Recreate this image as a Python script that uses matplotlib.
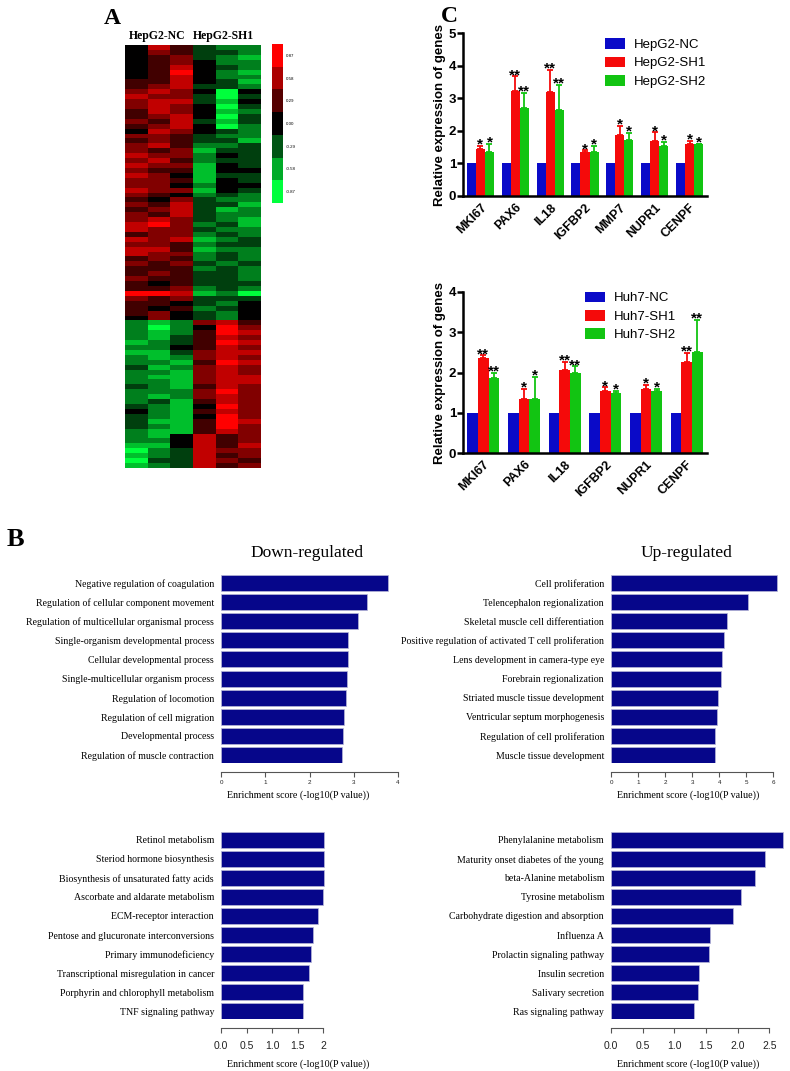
import numpy as np
import matplotlib
matplotlib.use("Agg")
import matplotlib.pyplot as plt
from matplotlib.colors import LinearSegmentedColormap

SERIF = ['Liberation Serif', 'DejaVu Serif']
SANS = ['Liberation Sans', 'DejaVu Sans']
plt.rcParams['font.family'] = SANS

# ---------------- data ----------------
# Heatmap rows (digit 0..8 -> -0.87..0.87, 4 = 0); columns: NC x3, SH1 x3
heat_rows = [
    "475322", "465332", "456321", "456422", "457432", "458421", "457422", "557431",
    "567332", "676404", "766303", "677314", "676403", "576412", "567403", "657313",
    "567402", "476432", "665322", "565331", "675223", "656133", "766243", "675233",
    "766143", "655144", "764133", "665143", "664244", "766143", "654232", "546322",
    "657331", "567312", "657322", "676321", "786231", "766322", "566232", "767123",
    "665233", "775122", "766232", "565232", "656323", "555232", "565332", "655332",
    "545333", "556232", "887120", "656333", "554324", "545234", "564324", "464324",
    "212675", "202486", "212587", "213576", "123587", "224576", "113677", "212676",
    "221587", "312676", "221676", "211677", "221677", "321576", "222686", "212676",
    "231576", "321486", "421576", "321486", "311587", "321586", "211576", "214756",
    "224756", "114757", "023766", "123756", "033765", "123756",
]
heat_cols = ["HepG2-NC", "HepG2-SH1"]
cbar_levels = [0.87, 0.58, 0.29, 0.00, -0.29, -0.58, -0.87]
cbar_labels = ["0.87", "0.58", "0.29", "0.00", "-0.29", "-0.58", "-0.87"]

hep_genes = ['MKI67', 'PAX6', 'IL18', 'IGFBP2', 'MMP7', 'NUPR1', 'CENPF']
hep_nc = [1, 1, 1, 1, 1, 1, 1]
hep_sh1 = [1.44, 3.21, 3.19, 1.36, 1.88, 1.68, 1.59]
hep_sh1_err = [0.10, 0.46, 0.69, 0.04, 0.27, 0.27, 0.10]
hep_sh2 = [1.36, 2.71, 2.65, 1.34, 1.73, 1.54, 1.59]
hep_sh2_err = [0.25, 0.46, 0.75, 0.20, 0.21, 0.12, 0.02]
hep_sh1_sig = ['*', '**', '**', '*', '*', '*', '*']
hep_sh2_sig = ['*', '**', '**', '*', '*', '*', '*']
hep_legend = ['HepG2-NC', 'HepG2-SH1', 'HepG2-SH2']

huh_genes = ['MKI67', 'PAX6', 'IL18', 'IGFBP2', 'NUPR1', 'CENPF']
huh_nc = [1, 1, 1, 1, 1, 1]
huh_sh1 = [2.37, 1.33, 2.05, 1.54, 1.60, 2.25]
huh_sh1_err = [0.06, 0.27, 0.21, 0.09, 0.10, 0.23]
huh_sh2 = [1.87, 1.33, 2.00, 1.49, 1.55, 2.51]
huh_sh2_err = [0.13, 0.57, 0.15, 0.06, 0.04, 0.79]
huh_sh1_sig = ['**', '*', '**', '*', '*', '**']
huh_sh2_sig = ['**', '*', '**', '*', '*', '**']
huh_legend = ['Huh7-NC', 'Huh7-SH1', 'Huh7-SH2']

go_down_terms = ['Negative regulation of coagulation', 'Regulation of cellular component movement',
                 'Regulation of multicellular organismal process', 'Single-organism developmental process',
                 'Cellular developmental process', 'Single-multicellular organism process',
                 'Regulation of locomotion', 'Regulation of cell migration', 'Developmental process',
                 'Regulation of muscle contraction']
go_down_vals = [3.77, 3.30, 3.10, 2.87, 2.86, 2.84, 2.83, 2.78, 2.76, 2.74]

go_up_terms = ['Cell proliferation', 'Telencephalon regionalization', 'Skeletal muscle cell differentiation',
               'Positive regulation of activated T cell proliferation', 'Lens development in camera-type eye',
               'Forebrain regionalization', 'Striated muscle tissue development',
               'Ventricular septum morphogenesis', 'Regulation of cell proliferation', 'Muscle tissue development']
go_up_vals = [6.12, 5.07, 4.30, 4.17, 4.10, 4.05, 3.97, 3.92, 3.85, 3.85]

kegg_down_terms = ['Retinol metabolism', 'Steriod hormone biosynthesis', 'Biosynthesis of unsaturated fatty acids',
                   'Ascorbate and aldarate metabolism', 'ECM-receptor interaction',
                   'Pentose and glucuronate interconversions', 'Primary immunodeficiency',
                   'Transcriptional misregulation in cancer', 'Porphyrin and chlorophyll metabolism',
                   'TNF signaling pathway']
kegg_down_vals = [2.01, 2.01, 2.01, 2.00, 1.90, 1.80, 1.76, 1.72, 1.61, 1.60]

kegg_up_terms = ['Phenylalanine metabolism', 'Maturity onset diabetes of the young', 'beta-Alanine metabolism',
                 'Tyrosine metabolism', 'Carbohydrate digestion and absorption', 'Influenza A',
                 'Prolactin signaling pathway', 'Insulin secretion', 'Salivary secretion', 'Ras signaling pathway']
kegg_up_vals = [2.72, 2.43, 2.27, 2.05, 1.93, 1.57, 1.55, 1.39, 1.37, 1.31]

# ---------------- figure ----------------
W, H = 790, 1071
fig = plt.figure(figsize=(W / 100, H / 100), dpi=100)


def ax_px(l, t, r, b):
    return fig.add_axes([l / W, 1 - b / H, (r - l) / W, (b - t) / H])


def ftext(x, y, s, **kw):
    return fig.text(x / W, 1 - y / H, s, **kw)


# ---------------- Panel A: heatmap ----------------
cmap = LinearSegmentedColormap.from_list('gkr', ['#00ff3c', '#000000', '#ff0000'])
heat = np.array([[(int(c) - 4) / 4 * 0.87 for c in row] for row in heat_rows])
axh = ax_px(125, 45, 261, 468)
axh.imshow(heat, aspect='auto', cmap=cmap, vmin=-0.87, vmax=0.87, interpolation='nearest')
axh.axis('off')
ftext(157, 36, heat_cols[0], family=SERIF, fontsize=8.5, fontweight='bold', ha='center', va='center')
ftext(223, 36, heat_cols[1], family=SERIF, fontsize=8.5, fontweight='bold', ha='center', va='center')

axc = ax_px(272, 44, 283, 203)
axc.imshow(np.array(cbar_levels)[:, None], aspect='auto', cmap=cmap, vmin=-0.87, vmax=0.87,
           interpolation='nearest')
axc.set_xticks([])
axc.yaxis.tick_right()
axc.set_yticks(range(len(cbar_labels)))
axc.set_yticklabels(cbar_labels, fontsize=3.2)
axc.tick_params(axis='y', length=0, pad=2)
for s in axc.spines.values():
    s.set_visible(False)

ftext(112, 18, 'A', family=SERIF, fontsize=17, fontweight='bold', ha='center', va='center')
ftext(449, 16, 'C', family=SERIF, fontsize=17, fontweight='bold', ha='center', va='center')
ftext(15, 540, 'B', family=SERIF, fontsize=19, fontweight='bold', ha='center', va='center')

# ---------------- Panel C: qPCR bars ----------------
COLS = ['#0a0ac8', '#f50a0a', '#12c412']


def qpcr(ax, genes, nc, sh1, e1, sh2, e2, s1, s2, legend, ymax, leg_xy):
    x = np.arange(len(genes))
    w = 0.26
    ax.bar(x - w, nc, w, color=COLS[0], label=legend[0])
    ax.bar(x, sh1, w, color=COLS[1], label=legend[1])
    ax.bar(x + w, sh2, w, color=COLS[2], label=legend[2])
    ax.errorbar(x, sh1, yerr=[np.zeros(len(x)), e1], fmt='none', ecolor=COLS[1],
                elinewidth=1.3, capsize=2.5, capthick=1.3)
    ax.errorbar(x + w, sh2, yerr=[np.zeros(len(x)), e2], fmt='none', ecolor=COLS[2],
                elinewidth=1.3, capsize=2.5, capthick=1.3)
    for xi, v, e, s in zip(x, sh1, e1, s1):
        ax.annotate(s, (xi, v + e), xytext=(0, -2), textcoords='offset points', ha='center',
                    va='baseline', fontsize=11, fontweight='bold')
    for xi, v, e, s in zip(x + w, sh2, e2, s2):
        ax.annotate(s, (xi, v + e), xytext=(0, -2), textcoords='offset points', ha='center',
                    va='baseline', fontsize=11, fontweight='bold')
    ax.set_xlim(-0.5, len(genes) - 0.5)
    ax.set_ylim(0, ymax)
    ax.set_yticks(range(ymax + 1))
    ax.set_yticklabels([str(i) for i in range(ymax + 1)], fontweight='bold', fontsize=9.5)
    ax.set_xticks(x)
    ax.set_xticklabels(genes, rotation=45, ha='right', va='top', rotation_mode='anchor',
                       fontweight='bold', fontsize=9)
    ax.tick_params(axis='x', length=0, pad=4)
    ax.tick_params(axis='y', length=4, width=1.8, pad=1)
    for sp in ['top', 'right']:
        ax.spines[sp].set_visible(False)
    for sp in ['left', 'bottom']:
        ax.spines[sp].set_linewidth(1.8)
    ax.set_ylabel('Relative expression of genes', fontweight='bold', fontsize=9.5, labelpad=2)
    ax.legend(loc='upper left', bbox_to_anchor=leg_xy, frameon=False, fontsize=9.5,
              handlelength=1.45, handleheight=0.85, handletextpad=0.7, labelspacing=0.42,
              borderaxespad=0)


axq1 = ax_px(463, 33, 707, 196)
qpcr(axq1, hep_genes, hep_nc, hep_sh1, hep_sh1_err, hep_sh2, hep_sh2_err,
     hep_sh1_sig, hep_sh2_sig, hep_legend, 5, (0.562, 1.0))
axq2 = ax_px(463, 292, 707, 453)
qpcr(axq2, huh_genes, huh_nc, huh_sh1, huh_sh1_err, huh_sh2, huh_sh2_err,
     huh_sh1_sig, huh_sh2_sig, huh_legend, 4, (0.48, 1.035))

# ---------------- Panel B: enrichment bars ----------------
NAVY = '#06068a'


def enrich(l, t, b, ppu, xmax, ticks, ticklabels, terms, vals, tick_fs, tick_pad, label_y, label_x):
    r = l + ppu * xmax
    ax = ax_px(l, t, r, b)
    n = len(vals)
    pos = [(n - 1 - i) * 1.2 for i in range(n)]
    ax.barh(pos, vals, height=1.0, color=NAVY, edgecolor='#b8b8d8', linewidth=0.5)
    ax.set_ylim(-0.5, (n - 1) * 1.2 + 0.5)
    ax.set_xlim(0, xmax)
    ax.set_yticks(pos)
    ax.set_yticklabels(terms, family=SERIF, fontsize=7.1)
    ax.tick_params(axis='y', length=0, pad=5)
    for sp in ['top', 'right', 'left']:
        ax.spines[sp].set_visible(False)
    ax.spines['bottom'].set_position(('outward', 6.5))
    ax.spines['bottom'].set_bounds(ticks[0], ticks[-1])
    ax.spines['bottom'].set_color('#555555')
    ax.spines['bottom'].set_linewidth(0.8)
    ax.set_xticks(ticks)
    ax.set_xticklabels(ticklabels, fontsize=tick_fs, color='#222222')
    ax.tick_params(axis='x', length=3.5, width=0.8, color='#555555', pad=tick_pad)
    ftext(label_x, label_y, 'Enrichment score (-log10(P value))', family=SERIF, fontsize=7.2,
          ha='center', va='center')
    return ax


enrich(221, 575, 763, 44.25, 4.0, [0, 1, 2, 3, 4], ['0', '1', '2', '3', '4'],
       go_down_terms, go_down_vals, 4.5, 2.5, 795, 298)
enrich(611, 575, 763, 27.05, 6.3, [0, 1, 2, 3, 4, 5, 6], ['0', '1', '2', '3', '4', '5', '6'],
       go_up_terms, go_up_vals, 4.5, 2.5, 795, 688)
enrich(221, 832, 1019, 51.2, 2.1, [0, 0.5, 1, 1.5, 2], ['0.0', '0.5', '1.0', '1.5', '2'],
       kegg_down_terms, kegg_down_vals, 7.5, 6, 1064, 298)
enrich(611, 832, 1019, 63.3, 2.8, [0, 0.5, 1, 1.5, 2, 2.5], ['0.0', '0.5', '1.0', '1.5', '2.0', '2.5'],
       kegg_up_terms, kegg_up_vals, 7.5, 6, 1064, 688)

ftext(307, 553, 'Down-regulated', family=SERIF, fontsize=12.5, ha='center', va='center')
ftext(687, 553, 'Up-regulated', family=SERIF, fontsize=12.5, ha='center', va='center')

fig.savefig('out.png', dpi=100)
